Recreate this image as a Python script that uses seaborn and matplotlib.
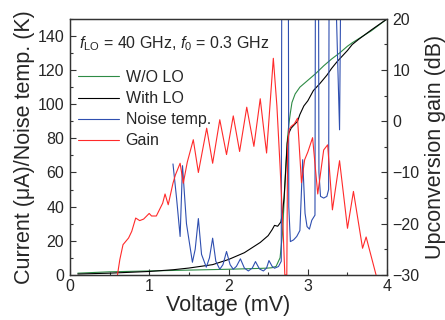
import matplotlib
matplotlib.use('Agg')
import matplotlib.pyplot as plt
import seaborn as sns
import pandas as pd
from matplotlib.ticker import MultipleLocator

# I-V curve without LO
v_wo = [0.1, 0.5, 1.0, 1.5, 2.0, 2.4, 2.5, 2.55, 2.6, 2.65, 2.68, 2.7, 2.72, 2.74, 2.76,
        2.78, 2.8, 2.84, 2.9, 3.0, 3.1, 3.2, 3.3, 3.4, 3.5, 3.56, 3.8, 4.0]
i_wo = [1.0, 1.8, 2.3, 2.8, 3.3, 3.8, 4.0, 4.2, 5.0, 10, 24, 42, 62, 78, 88,
        95, 101, 106, 110, 114, 118, 122.5, 126.5, 130, 134, 136, 143, 150]

# I-V curve with LO
v_lo = [0.1, 0.5, 1.0, 1.3, 1.5, 1.8, 2.0, 2.2, 2.4, 2.5, 2.55, 2.58, 2.62, 2.66, 2.68,
        2.7, 2.72, 2.74, 2.76, 2.79, 2.83, 2.87, 2.9, 2.95, 3.0, 3.07, 3.15, 3.24, 3.3,
        3.37, 3.45, 3.5, 3.56, 3.64, 3.8, 4.0]
i_lo = [0.5, 1.0, 2.0, 3.0, 4.0, 6.0, 9.0, 13, 19, 23, 26.5, 29, 28.5, 31, 36,
        45, 60, 77, 83, 86, 88, 90, 94, 99, 102, 108, 112, 117, 121,
        125, 129, 131.5, 135, 138, 143.5, 150]

# noise temperature (K)
v_nt = [1.30, 1.345, 1.39, 1.42, 1.47, 1.545, 1.58, 1.62, 1.66, 1.72, 1.76, 1.80, 1.84,
        1.89, 1.93, 1.975, 2.02, 2.06, 2.10, 2.15, 2.20, 2.25, 2.30, 2.34, 2.39, 2.44,
        2.48, 2.51, 2.55, 2.58, 2.63, 2.665, 2.68, 2.745, 2.76, 2.78, 2.82, 2.86, 2.90,
        2.935, 2.965, 2.99, 3.02, 3.05, 3.09, 3.105, 3.125, 3.14, 3.16, 3.20, 3.24,
        3.262, 3.28, 3.30, 3.35, 3.40, 3.42, 3.43]
nt = [65, 45, 22.5, 64, 30, 7.4, 15, 33, 12, 4.5, 10, 21.5, 8,
      3.3, 6, 13.7, 6, 3.3, 5, 9.4, 4, 2.3, 4, 7.8, 3.5, 2.3,
      4, 8.4, 5, 3.9, 4.9, 8, 400, 400, 40, 19.5, 20.5, 22.5, 26,
      67.5, 36, 28.3, 26.8, 32, 35, 400, 400, 60, 46, 45, 46,
      50, 400, 400, 170, 85, 200, 300]

# upconversion gain (dB)
v_gain = [0.60, 0.63, 0.67, 0.74, 0.78, 0.83, 0.88, 0.93, 1.00, 1.03, 1.09, 1.17, 1.20,
          1.24, 1.30, 1.33, 1.39, 1.43, 1.48, 1.556, 1.62, 1.725, 1.80, 1.89, 1.975,
          2.06, 2.14, 2.23, 2.32, 2.40, 2.44, 2.48, 2.565, 2.61, 2.65, 2.69, 2.71, 2.735,
          2.745, 2.765, 2.79, 2.83, 2.87, 2.92, 2.96, 3.00, 3.06, 3.125, 3.20, 3.25,
          3.31, 3.40, 3.50, 3.575, 3.69, 3.735, 3.86]
gain = [-30, -27, -24.1, -22.8, -21.5, -18.9, -19.4, -19.1, -18, -18.5, -18.5, -16, -14.2,
        -16.3, -12.1, -10.5, -8.2, -12.1, -8.0, -3.6, -10, -1.35, -8.2, 0.3, -6.5,
        1.05, -5.9, 2.75, -4.9, 4.4, -1.0, -6.2, 12.3, 3.0, -8.8, -21.9, -30, -30,
        -5, -1.6, -1.0, -0.5, 0.6, -12, -7.5, -6.0, -3.2, -14.2, -5.6, -4.6,
        -17.3, -7.7, -20.9, -13.7, -24.8, -22.6, -30]

sns.set_style('ticks')
plt.rcParams['font.family'] = ['Liberation Sans', 'DejaVu Sans']
plt.rcParams['mathtext.fontset'] = 'custom'
plt.rcParams['mathtext.rm'] = 'Liberation Sans'
plt.rcParams['mathtext.it'] = 'Liberation Sans:italic'
plt.rcParams['xtick.direction'] = 'in'
plt.rcParams['ytick.direction'] = 'in'

fig = plt.figure(figsize=(4.45, 3.2), dpi=100)
ax = fig.add_axes([0.157, 0.141, 0.713, 0.800])
ax2 = ax.twinx()

lw = 0.8
sns.lineplot(x=v_wo, y=i_wo, ax=ax, color='#2e8b45', lw=lw, label='W/O LO', legend=False)
sns.lineplot(x=v_lo, y=i_lo, ax=ax, color='black', lw=lw, label='With LO', legend=False)
sns.lineplot(x=v_nt, y=nt, ax=ax, color='#2f4fb0', lw=lw, label='Noise temp.', legend=False, sort=False)
sns.lineplot(x=v_gain, y=gain, ax=ax2, color='#ff2a2a', lw=lw, label='Gain', legend=False, sort=False)

ax.set_xlim(0, 4)
ax.set_ylim(0, 150)
ax2.set_ylim(-30, 20)

ax.xaxis.set_major_locator(MultipleLocator(1))
ax.xaxis.set_minor_locator(MultipleLocator(0.5))
ax.yaxis.set_major_locator(MultipleLocator(20))
ax.yaxis.set_minor_locator(MultipleLocator(10))
ax2.yaxis.set_major_locator(MultipleLocator(10))
ax2.yaxis.set_minor_locator(MultipleLocator(5))

for a in (ax, ax2):
    a.tick_params(which='major', length=4, width=0.8, labelsize=11.5, pad=4, color='#333333')
    a.tick_params(which='minor', length=2, width=0.8, color='#333333')
    for s in a.spines.values():
        s.set_color('#333333')
        s.set_linewidth(0.9)
ax.tick_params(axis='x', pad=3)

ax.set_xlabel('Voltage (mV)', fontsize=15.5, labelpad=1)
ax.set_ylabel('Current (μA)/Noise temp. (K)', fontsize=15.5, labelpad=2)
ax2.set_ylabel('Upconversion gain (dB)', fontsize=15.5, labelpad=4)

ax.text(0.03, 0.885, r'$f_{\mathrm{LO}}$ = 40 GHz, $f_0$ = 0.3 GHz', transform=ax.transAxes,
        fontsize=11.5, va='baseline', ha='left')

h1, l1 = ax.get_legend_handles_labels()
h2, l2 = ax2.get_legend_handles_labels()
ax2.legend(h1 + h2, l1 + l2, loc='upper left', bbox_to_anchor=(0.025, 0.80),
           frameon=False, fontsize=11.5, handlelength=2.6, handletextpad=0.4,
           labelspacing=0.38, borderpad=0, borderaxespad=0)

fig.savefig('out.png', dpi=100)
